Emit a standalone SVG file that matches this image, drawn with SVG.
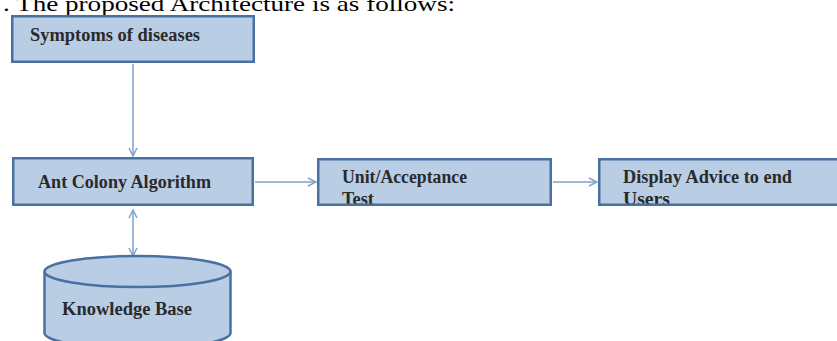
<svg xmlns="http://www.w3.org/2000/svg" width="837" height="341" viewBox="0 0 837 341">
  <style>
    .box { fill: #b9cde5; stroke: none; }
    .edge { fill: none; stroke: #4a70a2; stroke-width: 2.5; }
    .lbl { font-family: "Liberation Serif", "Times New Roman", serif; font-weight: bold; font-size: 18.5px; fill: #2a2a2a; }
    .head { font-family: "Liberation Serif", "Times New Roman", serif; font-size: 22px; fill: #000; }
    .conn { fill: none; stroke: #7fa2cf; stroke-width: 1.5; }
  </style>
  <defs>
    <marker id="arr" viewBox="0 0 10 10" refX="9" refY="5" markerWidth="10" markerHeight="10" markerUnits="userSpaceOnUse" orient="auto-start-reverse">
      <path d="M1,1 L9,5 L1,9" fill="none" stroke="#7fa2cf" stroke-width="1.5"/>
    </marker>
  </defs>
  <rect width="837" height="341" fill="#ffffff"/>

  <text class="head" x="3" y="11" textLength="452" lengthAdjust="spacingAndGlyphs">. The proposed Architecture is as follows:</text>

  <g id="connectors">
    <line class="conn" x1="133" y1="64" x2="133" y2="156" marker-end="url(#arr)"/>
    <line class="conn" x1="133" y1="210" x2="133" y2="256" marker-start="url(#arr)" marker-end="url(#arr)"/>
    <line class="conn" x1="255" y1="182" x2="316" y2="182" marker-end="url(#arr)"/>
    <line class="conn" x1="553" y1="182" x2="597" y2="182" marker-end="url(#arr)"/>
  </g>

  <g id="symptoms">
    <rect class="box" x="12.25" y="16.25" width="241.5" height="45.5"/>
    <text class="lbl" x="30" y="41" textLength="170" lengthAdjust="spacingAndGlyphs">Symptoms of diseases</text>
    <rect class="edge" x="12.25" y="16.25" width="241.5" height="45.5"/>
  </g>

  <g id="ant-colony">
    <rect class="box" x="13.25" y="158.25" width="239.5" height="46.5"/>
    <text class="lbl" x="38" y="188" textLength="173" lengthAdjust="spacingAndGlyphs">Ant Colony Algorithm</text>
    <rect class="edge" x="13.25" y="158.25" width="239.5" height="46.5"/>
  </g>

  <g id="unit-test">
    <rect class="box" x="318.25" y="159.25" width="232.5" height="45.5"/>
    <text class="lbl" x="342" y="183" textLength="125" lengthAdjust="spacingAndGlyphs">Unit/Acceptance</text>
    <text class="lbl" x="342" y="205" textLength="32" lengthAdjust="spacingAndGlyphs">Test</text>
    <rect class="edge" x="318.25" y="159.25" width="232.5" height="45.5"/>
  </g>

  <g id="display-advice">
    <rect class="box" x="599.25" y="159.25" width="260" height="45.5"/>
    <text class="lbl" x="623" y="183" textLength="169" lengthAdjust="spacingAndGlyphs">Display Advice to end</text>
    <text class="lbl" x="623" y="205" textLength="47" lengthAdjust="spacingAndGlyphs">Users</text>
    <rect class="edge" x="599.25" y="159.25" width="260" height="45.5"/>
  </g>

  <g id="knowledge-base">
    <path class="box" d="M44.5,271.5 L44.5,333 A93,15.5 0 0 0 230.5,333 L230.5,271.5 A93,15.5 0 0 0 44.5,271.5 Z"/>
    <path class="edge" d="M44.5,271.5 L44.5,333 A93,15.5 0 0 0 230.5,333 L230.5,271.5"/>
    <ellipse class="edge" cx="137.5" cy="271.5" rx="93" ry="15.5"/>
    <text class="lbl" x="62" y="315" textLength="130" lengthAdjust="spacingAndGlyphs">Knowledge Base</text>
  </g>
</svg>
